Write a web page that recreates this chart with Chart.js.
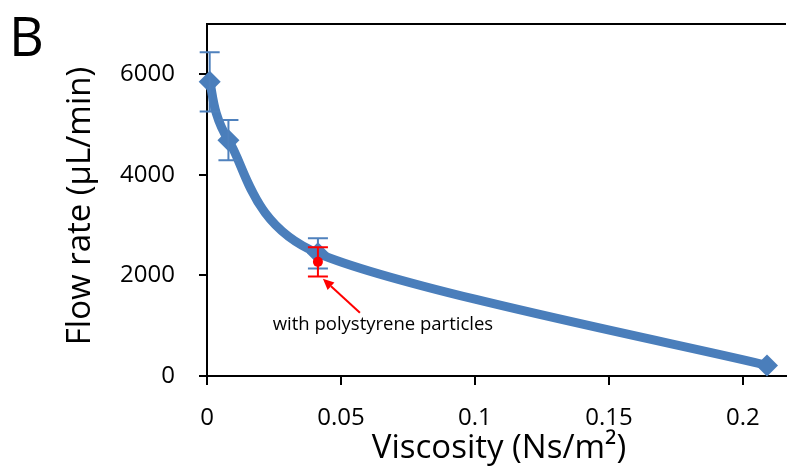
<!DOCTYPE html>
<html><head><meta charset="utf-8">
<script src="https://cdn.jsdelivr.net/npm/chart.js@4"></script>
<style>html,body{margin:0;padding:0;background:#fff;overflow:hidden}#wrap{width:797px;height:470px;position:relative}</style>
</head><body><div id="wrap"><canvas id="c"></canvas></div>
<script>
// ---- data ----
const viscosity = [0.001, 0.008, 0.0414, 0.209];
const flowRate = [5850, 4690, 2440, 210];
const flowError = [590, 400, 300, 0];
const particleViscosity = [0.0414];
const particleFlowRate = [2270];
const particleError = [290];
const xTicks = [0, 0.05, 0.1, 0.15, 0.2];
const xTickLabels = ['0', '0.05', '0.1', '0.15', '0.2'];
const yTicks = [0, 2000, 4000, 6000];
const yTickLabels = ['0', '2000', '4000', '6000'];
const panelLabel = 'B';
const xTitle = 'Viscosity (Ns/m²)';
const yTitle = 'Flow rate (µL/min)';
const annotationText = 'with polystyrene particles';

const FONT = "'Open Sans', sans-serif";
const BLUE = '#4A7EBB';
const BLUE_ERR = '#4F81BD';
const RED = '#FF0000';

// Spreadsheet-style smoothing: Catmull-Rom control points (factor 1/6),
// each handle limited to half of its adjacent segment, set on the line
// element's own points before Chart.js draws it.
const smoothLine = {
  id: 'smoothLine',
  beforeDatasetDraw(chart, args) {
    const ds = chart.data.datasets[args.index];
    if (!ds.catmull) return;
    const meta = args.meta;
    meta.dataset.updateControlPoints(chart.chartArea, 'x');
    const pts = meta.data;
    const n = pts.length, k = 1 / 6;
    const handle = (p, q, vx, vy) => {
      const seg = Math.hypot(q.x - p.x, q.y - p.y);
      const len = Math.hypot(vx, vy);
      const lim = 0.5 * seg;
      const s = len > lim && len > 0 ? lim / len : 1;
      return [vx * s, vy * s];
    };
    for (let i = 0; i < n; i++) {
      const p = pts[i];
      const prev = pts[Math.max(0, i - 1)];
      const next = pts[Math.min(n - 1, i + 1)];
      const dx = (next.x - prev.x) * k, dy = (next.y - prev.y) * k;
      const [ax, ay] = handle(p, prev, dx, dy);
      const [bx, by] = handle(p, next, dx, dy);
      p.cp1x = p.x - ax; p.cp1y = p.y - ay;
      p.cp2x = p.x + bx; p.cp2y = p.y + by;
    }
  }
};

const errorBars = {
  id: 'errorBars',
  afterDatasetDraw(chart, args) {
    const ds = chart.data.datasets[args.index];
    if (!ds.errors) return;
    const ctx = chart.ctx, xs = chart.scales.x, ys = chart.scales.y;
    ctx.save();
    ctx.strokeStyle = ds.errorColor;
    ctx.lineWidth = 2;
    ds.data.forEach((p, i) => {
      const e = ds.errors[i];
      if (!e) return;
      const x = xs.getPixelForValue(p.x);
      const yt = ys.getPixelForValue(p.y + e);
      const yb = ys.getPixelForValue(p.y - e);
      const hw = 10;
      ctx.beginPath();
      ctx.moveTo(x, yt); ctx.lineTo(x, yb);
      ctx.moveTo(x - hw, yt); ctx.lineTo(x + hw, yt);
      ctx.moveTo(x - hw, yb); ctx.lineTo(x + hw, yb);
      ctx.stroke();
    });
    ctx.restore();
  }
};

const decorations = {
  id: 'decorations',
  beforeDatasetsDraw(chart) {
    const ctx = chart.ctx, a = chart.chartArea;
    ctx.save();
    ctx.strokeStyle = '#000'; ctx.lineWidth = 2;
    ctx.beginPath(); ctx.moveTo(a.left - 1, a.top); ctx.lineTo(a.right, a.top); ctx.stroke();
    ctx.restore();
  },
  afterDraw(chart) {
    const ctx = chart.ctx, xs = chart.scales.x, ys = chart.scales.y;
    ctx.save();
    ctx.fillStyle = '#000';
    // panel label
    ctx.font = `54px ${FONT}`;
    ctx.textAlign = 'left'; ctx.textBaseline = 'alphabetic';
    ctx.fillText(panelLabel, 9, 56);
    // axis titles
    ctx.font = `33px ${FONT}`;
    ctx.textAlign = 'center'; ctx.textBaseline = 'middle';
    ctx.fillText(xTitle, 499, 449);
    ctx.save();
    ctx.translate(81, 206);
    ctx.rotate(-Math.PI / 2);
    ctx.fillText(yTitle, 0, 0);
    ctx.restore();
    // annotation anchored to the particle point
    const px = xs.getPixelForValue(particleViscosity[0]);
    const py = ys.getPixelForValue(particleFlowRate[0]);
    ctx.font = `18.5px ${FONT}`;
    ctx.fillText(annotationText, px + 65, py + 63);
    const hx = px + 5, hy = py + 17, tx = px + 42, ty = py + 51;
    ctx.strokeStyle = RED; ctx.fillStyle = RED; ctx.lineWidth = 2;
    const ang = Math.atan2(hy - ty, hx - tx);
    const hl = 11, hwid = 5;
    const bx = hx - hl * Math.cos(ang), by = hy - hl * Math.sin(ang);
    ctx.beginPath(); ctx.moveTo(tx, ty); ctx.lineTo(bx, by); ctx.stroke();
    ctx.beginPath();
    ctx.moveTo(hx, hy);
    ctx.lineTo(bx + hwid * Math.sin(ang), by - hwid * Math.cos(ang));
    ctx.lineTo(bx - hwid * Math.sin(ang), by + hwid * Math.cos(ang));
    ctx.closePath(); ctx.fill();
    ctx.restore();
  }
};

new Chart(document.getElementById('c'), {
  type: 'scatter',
  data: {
    datasets: [
      {
        label: 'with polystyrene particles',
        data: particleViscosity.map((v, i) => ({ x: v, y: particleFlowRate[i] })),
        errors: particleError,
        errorColor: RED,
        showLine: false,
        pointStyle: 'circle',
        pointRadius: 5,
        backgroundColor: RED,
        borderWidth: 0,
        clip: false
      },
      {
        label: 'Flow rate',
        data: viscosity.map((v, i) => ({ x: v, y: flowRate[i] })),
        errors: flowError,
        errorColor: BLUE_ERR,
        catmull: true,
        showLine: true,
        tension: 0.4,
        capBezierPoints: false,
        borderColor: BLUE,
        borderWidth: 9,
        borderJoinStyle: 'round',
        pointStyle: 'rectRot',
        pointRadius: 11,
        pointBackgroundColor: BLUE,
        pointBorderWidth: 0,
        clip: false
      }
    ]
  },
  options: {
    responsive: true,
    maintainAspectRatio: false,
    animation: false,
    events: [],
    layout: { padding: { top: 24, right: 0, bottom: 0, left: 0 } },
    plugins: { legend: { display: false }, tooltip: { enabled: false } },
    scales: {
      x: {
        type: 'linear', min: 0, max: 0.2161,
        afterBuildTicks: s => { s.ticks = xTicks.map(v => ({ value: v })); },
        afterFit: s => { s.height = 94; s.paddingLeft = 0; s.paddingRight = 0; },
        ticks: {
          callback: v => xTickLabels[xTicks.indexOf(v)],
          font: { family: FONT, size: 24 }, color: '#000', padding: 19, maxRotation: 0
        },
        grid: { display: true, drawOnChartArea: false, drawTicks: true, tickLength: 9, color: '#000', lineWidth: 2 },
        border: { display: true, color: '#000', width: 2 }
      },
      y: {
        type: 'linear', min: 0, max: 7000,
        afterBuildTicks: s => { s.ticks = yTicks.map(v => ({ value: v })); },
        afterFit: s => { s.width = 207; s.paddingTop = 0; s.paddingBottom = 0; },
        ticks: {
          callback: v => yTickLabels[yTicks.indexOf(v)],
          font: { family: FONT, size: 24 }, color: '#000', padding: 24
        },
        grid: { display: true, drawOnChartArea: false, drawTicks: true, tickLength: 8, color: '#000', lineWidth: 2 },
        border: { display: true, color: '#000', width: 2 }
      }
    }
  },
  plugins: [smoothLine, errorBars, decorations]
});
</script>
</body></html>
